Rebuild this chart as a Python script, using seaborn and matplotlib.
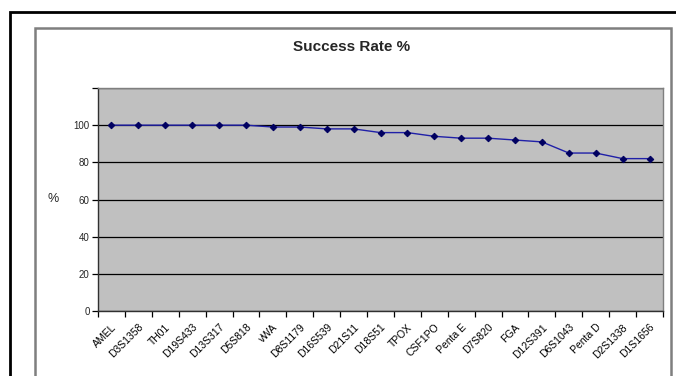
import matplotlib
matplotlib.use("Agg")
import matplotlib.pyplot as plt
from matplotlib.patches import Rectangle
import seaborn as sns
import pandas as pd

loci = ["AMEL", "D3S1358", "TH01", "D19S433", "D13S317", "D5S818", "vWA",
        "D8S1179", "D16S539", "D21S11", "D18S51", "TPOX", "CSF1PO", "Penta E",
        "D7S820", "FGA", "D12S391", "D6S1043", "Penta D", "D2S1338", "D1S1656"]
success = [100, 100, 100, 100, 100, 100, 99, 99, 98, 98, 96, 96, 94, 93,
           93, 92, 91, 85, 85, 82, 82]
y_ticks = [0, 20, 40, 60, 80, 100, 120]
y_tick_labels = ["0", "20", "40", "60", "80", "100", ""]

sns.set_style("white")
plt.rcParams["font.family"] = ["Liberation Sans", "DejaVu Sans"]

W, H = 676, 376
fig = plt.figure(figsize=(W / 100, H / 100), dpi=100)
fig.patch.set_facecolor("white")

# outer frames of the chart object
fig.patches.append(Rectangle((10 / W, -0.1), 2.0, (H - 12) / H + 0.1,
                             transform=fig.transFigure, fill=False,
                             edgecolor="black", linewidth=2.0))
fig.patches.append(Rectangle((35 / W, -0.1), (671 - 35) / W, (H - 28) / H + 0.1,
                             transform=fig.transFigure, fill=False,
                             edgecolor="#7f7f7f", linewidth=1.8))

left, right, top, bottom = 98, 663, 88, 311
ax = fig.add_axes([left / W, 1 - bottom / H, (right - left) / W, (bottom - top) / H])
ax.set_facecolor("#c0c0c0")

df = pd.DataFrame({"locus": loci, "rate": success})
df["pos"] = range(len(loci))
sns.lineplot(data=df, x="pos", y="rate", ax=ax, color="#2020a8", linewidth=1.0,
             marker="D", markersize=3.3, markerfacecolor="#000060",
             markeredgecolor="#000060", sort=False)

ax.set_xlim(-0.5, len(loci) - 0.5)
ax.set_ylim(0, 120)
ax.set_yticks(y_ticks)
ax.set_yticklabels(y_tick_labels)
ax.yaxis.grid(True, color="black", linewidth=0.9)
ax.set_axisbelow(True)

ax.set_xticks(range(len(loci)))
ax.set_xticklabels(loci, rotation=45, ha="right", rotation_mode="anchor")
ax.set_xticks([i - 0.5 for i in range(len(loci) + 1)], minor=True)
ax.tick_params(axis="x", which="major", length=0, pad=8, labelsize=7.5, colors="black")
ax.tick_params(axis="x", which="minor", length=4, width=0.9, color="black",
               direction="out", bottom=True)
ax.tick_params(axis="y", length=4, width=0.9, color="black", direction="out",
               left=True, labelsize=7, pad=2)

for side in ("left", "bottom"):
    ax.spines[side].set_color("#303030")
    ax.spines[side].set_linewidth(1.0)
for side in ("top", "right"):
    ax.spines[side].set_color("#7f7f7f")
    ax.spines[side].set_linewidth(1.0)

ax.set_xlabel("")
ax.set_ylabel("")
fig.text(53 / W, 1 - 199 / H, "%", ha="center", va="center", fontsize=9)
fig.text(352 / W, 1 - 47 / H, "Success Rate %", ha="center", va="center",
         fontsize=11, fontweight="bold")

fig.savefig("out.png", dpi=100)
